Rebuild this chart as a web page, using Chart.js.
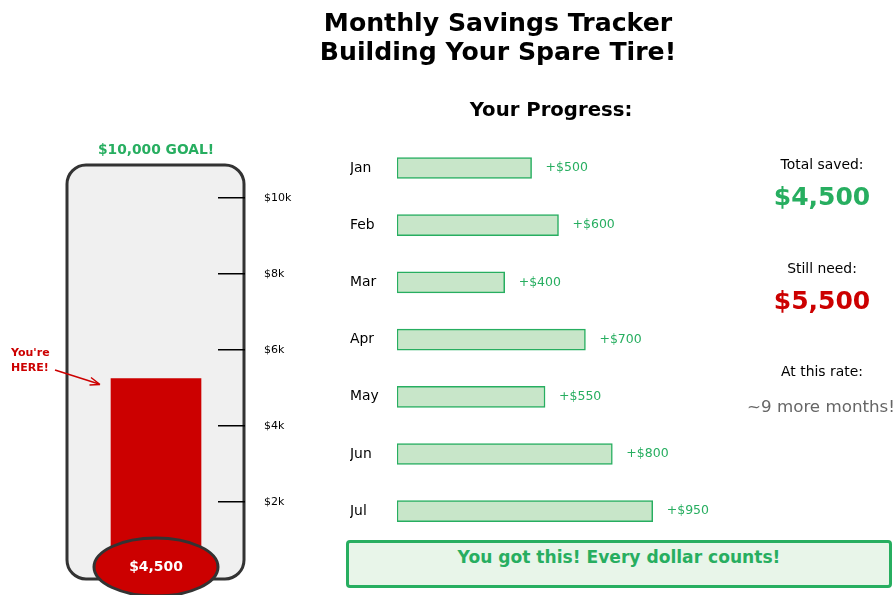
<!DOCTYPE html>
<html>
<head>
<meta charset="utf-8">
<script src="https://cdn.jsdelivr.net/npm/chart.js@4.4.1/dist/chart.umd.min.js"></script>
<style>
  body { margin: 0; background: #fff; font-family: "DejaVu Sans", sans-serif; }
  #wrap { position: relative; width: 896px; height: 595px; overflow: hidden; }
  canvas { position: absolute; left: 0; top: 0; }
  .t { position: absolute; transform: translate(-50%, -50%); white-space: nowrap; line-height: 1.15; text-align: center; }
</style>
</head>
<body>
<div id="wrap">
  <canvas id="thermo" width="896" height="595"></canvas>
  <canvas id="months" width="896" height="595"></canvas>

  <div class="t" style="left:498px;top:37px;font-size:25.2px;font-weight:bold;line-height:29px;">Monthly Savings Tracker<br>Building Your Spare Tire!</div>
  <div class="t" style="left:551px;top:110px;font-size:19.7px;font-weight:bold;">Your Progress:</div>
  <div class="t" style="left:156px;top:150px;font-size:13.8px;font-weight:bold;color:#27ae60;">$10,000 GOAL!</div>

  <div class="t" style="left:822px;top:164px;font-size:13.9px;">Total saved:</div>
  <div class="t" id="savedTxt" style="left:822px;top:197px;font-size:25px;font-weight:bold;color:#27ae60;"></div>
  <div class="t" style="left:822px;top:268px;font-size:13.9px;">Still need:</div>
  <div class="t" id="needTxt" style="left:822px;top:301px;font-size:25px;font-weight:bold;color:#cc0000;"></div>
  <div class="t" style="left:822px;top:371px;font-size:13.9px;">At this rate:</div>
  <div class="t" id="rateTxt" style="left:821px;top:407px;font-size:16.7px;color:#666;"></div>

  <div style="position:absolute;left:346px;top:540px;width:540px;height:42px;background:#e8f5e9;border:3px solid #27ae60;border-radius:4px;"></div>
  <div class="t" style="left:619px;top:558px;font-size:17.1px;font-weight:bold;color:#27ae60;">You got this! Every dollar counts!</div>
</div>
<script>
const months = ["Jan", "Feb", "Mar", "Apr", "May", "Jun", "Jul"];
const savings = [500, 600, 400, 700, 550, 800, 950];
const goal = 10000;
const tickValues = [2000, 4000, 6000, 8000, 10000];
const bulbLevel = 750; // mercury starts inside the bulb

const saved = savings.reduce((a, b) => a + b, 0);
const need = goal - saved;
const avg = saved / savings.length;
const money = v => "$" + v.toLocaleString("en-US");

document.getElementById("savedTxt").textContent = money(saved);
document.getElementById("needTxt").textContent = money(need);
document.getElementById("rateTxt").textContent = "~" + Math.ceil(need / avg) + " more months!";

const FONT = "DejaVu Sans";
const GREEN = "#27ae60";
const RED = "#cc0000";

// thermometer body, bulb and pointer
const thermoParts = {
  id: "thermoParts",
  beforeDraw(chart) {
    const ctx = chart.ctx;
    ctx.save();
    ctx.beginPath();
    ctx.roundRect(67, 165, 177, 414, 19);
    ctx.fillStyle = "#f0f0f0";
    ctx.fill();
    ctx.lineWidth = 3;
    ctx.strokeStyle = "#333";
    ctx.stroke();
    ctx.restore();
  },
  afterDraw(chart) {
    const ctx = chart.ctx;
    const bar = chart.getDatasetMeta(0).data[0];
    ctx.save();
    ctx.beginPath();
    ctx.ellipse(bar.x, 567, 62, 29, 0, 0, Math.PI * 2);
    ctx.fillStyle = RED;
    ctx.fill();
    ctx.lineWidth = 3;
    ctx.strokeStyle = "#333";
    ctx.stroke();
    ctx.fillStyle = "#fff";
    ctx.font = "bold 13.9px '" + FONT + "'";
    ctx.textAlign = "center";
    ctx.textBaseline = "middle";
    ctx.fillText(money(saved), bar.x, 567);

    // "You're HERE!" pointer
    ctx.fillStyle = RED;
    ctx.font = "bold 11px '" + FONT + "'";
    ctx.textAlign = "left";
    ctx.fillText("You're", 11, 353);
    ctx.fillText("HERE!", 11, 368);
    ctx.strokeStyle = RED;
    ctx.lineWidth = 1.5;
    ctx.beginPath();
    ctx.moveTo(55, 370);
    ctx.lineTo(99, 384);
    ctx.stroke();
    ctx.beginPath();
    ctx.moveTo(100, 384.5);
    ctx.lineTo(91, 377.5);
    ctx.moveTo(100, 384.5);
    ctx.lineTo(89.5, 385);
    ctx.stroke();
    ctx.restore();
  }
};

new Chart(document.getElementById("thermo"), {
  type: "bar",
  data: {
    labels: ["saved"],
    datasets: [{
      data: [[bulbLevel, bulbLevel + saved]],
      backgroundColor: RED,
      borderWidth: 0,
      barThickness: 90
    }]
  },
  options: {
    responsive: false,
    animation: false,
    layout: { padding: { left: 94, right: 566, top: 198, bottom: 17 } },
    plugins: { legend: { display: false }, tooltip: { enabled: false } },
    scales: {
      x: { display: false },
      y: {
        position: "right",
        min: 0,
        max: goal,
        afterBuildTicks: s => { s.ticks = tickValues.map(v => ({ value: v })); },
        afterFit: s => { s.width = 112; s.paddingTop = 0; s.paddingBottom = 0; },
        border: { display: false },
        grid: { drawOnChartArea: false, drawTicks: true, tickLength: 27, color: "#000", lineWidth: 1.5 },
        ticks: {
          padding: 19,
          color: "#000",
          font: { family: FONT, size: 11 },
          callback: v => "$" + v / 1000 + "k"
        }
      }
    }
  },
  plugins: [thermoParts]
});

// "+$500" labels after each bar
const valueLabels = {
  id: "valueLabels",
  afterDatasetsDraw(chart) {
    const ctx = chart.ctx;
    ctx.save();
    ctx.fillStyle = GREEN;
    ctx.font = "12.5px '" + FONT + "'";
    ctx.textAlign = "left";
    ctx.textBaseline = "middle";
    chart.getDatasetMeta(0).data.forEach((bar, i) => {
      ctx.fillText("+$" + savings[i], bar.x + 14, bar.y);
    });
    ctx.restore();
  }
};

new Chart(document.getElementById("months"), {
  type: "bar",
  data: {
    labels: months,
    datasets: [{
      data: savings,
      backgroundColor: "#c8e6c9",
      borderColor: GREEN,
      borderWidth: 1.5,
      borderSkipped: false,
      barThickness: 21
    }]
  },
  options: {
    indexAxis: "y",
    responsive: false,
    animation: false,
    layout: { padding: { left: 350, right: 176, top: 139.4, bottom: 55.2 } },
    plugins: { legend: { display: false }, tooltip: { enabled: false } },
    scales: {
      x: { display: false, min: 0, max: 1200 },
      y: {
        position: "left",
        afterFit: s => { s.width = 47; s.paddingTop = 0; s.paddingBottom = 0; },
        border: { display: false },
        grid: { display: false },
        ticks: { crossAlign: "far", padding: 0, color: "#000", font: { family: FONT, size: 13.9 } }
      }
    }
  },
  plugins: [valueLabels]
});
</script>
</body>
</html>
